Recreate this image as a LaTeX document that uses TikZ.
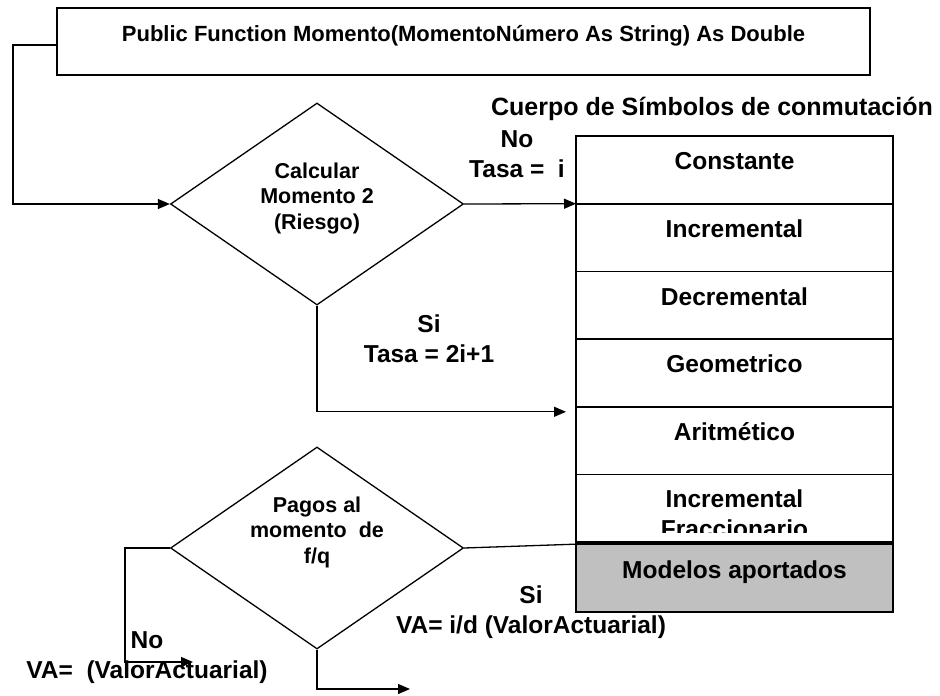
\documentclass[tikz,border=0pt]{standalone}
\usepackage{fontspec}
\setmainfont{Liberation Sans}
\usepackage{tikz}
\usetikzlibrary{arrows.meta, positioning, shapes.geometric, calc}
\definecolor{modelGray}{RGB}{192,192,192}

\begin{document}
\begin{tikzpicture}[x=1pt, y=-1pt,
    box/.style={rectangle, draw, line width=1.8pt, inner sep=0pt, outer sep=0pt,
        text height=12pt, text depth=12pt},
    fnbox/.style={box, minimum width=813pt, minimum height=67pt,
        font=\fontsize{22}{26}\selectfont\bfseries},
    row/.style={box, minimum width=317pt, minimum height=67.7pt,
        font=\fontsize{24.5}{30}\selectfont\bfseries},
    decision/.style={diamond, draw, line width=1.3pt, inner sep=0pt,
        minimum width=293pt, minimum height=202pt, aspect=1.45},
    dtext/.style={anchor=base, inner sep=0pt,
        font=\fontsize{21.5}{25.5}\selectfont\bfseries},
    tag/.style={anchor=base, inner sep=0pt,
        font=\fontsize{24.5}{30}\selectfont\bfseries},
    arrow/.style={-{Triangle[length=12pt, width=10pt]}, line width=1.3pt},
    conn/.style={line width=1.3pt}
]
\useasboundingbox (0,0) rectangle (940,696);

% encabezado
\node[fnbox] (fn) at (463.5,41.5)
    {Public Function Momento(MomentoNúmero As String) As Double};

% decisiones
\node[decision] (calc) at (317,204) {};
\node[dtext] (calctxt) at (317,178)
    {\begin{tabular}[t]{@{}c@{}}Calcular\\Momento 2\\(Riesgo)\end{tabular}};
\node[decision] (pagos) at (317,548) {};
\node[dtext] (pagostxt) at (317,512)
    {\begin{tabular}[t]{@{}c@{}}Pagos al\\momento\ \ de\\f/q\end{tabular}};

% cuerpo de simbolos
\node[font=\fontsize{25}{30}\selectfont\bfseries, anchor=base] (cuerpo) at (712,115)
    {Cuerpo de Símbolos de conmutación};
\foreach \name/\txt [count=\i] in {constante/Constante, incremental/Incremental,
    decremental/Decremental, geometrico/Geometrico, aritmetico/Aritmético}
    \node[row] (\name) at (734.5,{136+67.7*(\i-0.5)}) {\txt};
\node[row] (fraccionario) at (734.5,508.35) {};
\begin{scope}
    \clip (aritmetico.south west) rectangle ([yshift=10pt]fraccionario.south east);
    \node[tag] (fracctxt) at (734.5,507)
        {\begin{tabular}[t]{@{}c@{}}Incremental\\Fraccionario\end{tabular}};
\end{scope}
\node[row, fill=modelGray] (modelos) at (734.5,578) {Modelos aportados};

% conectores
\coordinate (loop) at (13,204);
\draw[arrow] ([yshift=-3.5pt]fn.west) -| (loop) -- (calc.west);
\draw[arrow] (calc.east) -- (constante.south west);
\coordinate (tasa2) at ([xshift=-10pt, yshift=-5pt]aritmetico.north west);
\draw[arrow] (calc.south) |- (tasa2);
\draw[conn] (pagos.east) -- (modelos.north west);
\coordinate (noend) at (193,662);
\draw[arrow] (pagos.west) -- ++(-45,0) |- (noend);
\coordinate (siend) at (410,689);
\draw[arrow] (pagos.south) |- (siend);

% etiquetas
\node[tag] (notasa) at (517,147)
    {\begin{tabular}[t]{@{}c@{}}No\\Tasa =\ \ i\end{tabular}};
\node[tag] (sitasa) at (429,332)
    {\begin{tabular}[t]{@{}c@{}}Si\\Tasa = 2i+1\end{tabular}};
\node[tag] (nova) at (147,648)
    {\begin{tabular}[t]{@{}c@{}}No\\VA=\ \ (ValorActuarial)\end{tabular}};
\node[tag] (siva) at (531,603)
    {\begin{tabular}[t]{@{}c@{}}Si\\VA= i/d (ValorActuarial)\end{tabular}};
\end{tikzpicture}
\end{document}
